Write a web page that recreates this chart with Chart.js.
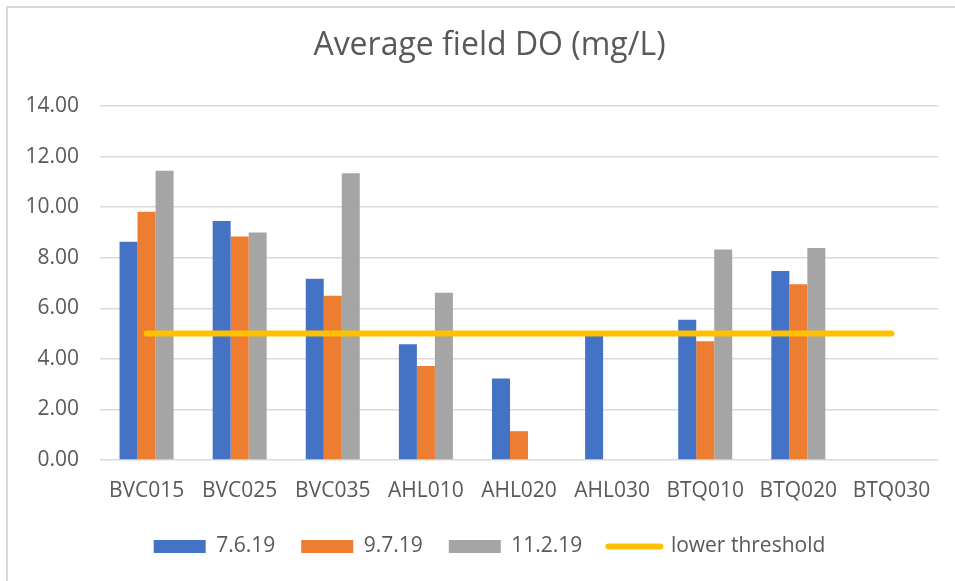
<!DOCTYPE html>
<html>
<head>
<meta charset="utf-8">
<script src="https://cdn.jsdelivr.net/npm/chart.js@4"></script>
<style>
  html, body { margin: 0; padding: 0; background: #fff; }
  #frame { position: absolute; left: 6px; top: 6px; width: 960px; height: 590px;
           border-top: 2px solid #d9d9d9; border-left: 2px solid #d9d9d9; }
  #wrap { position: absolute; left: 0; top: 0; width: 955px; height: 581px; }
</style>
</head>
<body>
<div id="frame"></div>
<div id="wrap"><canvas id="graficoDO" width="955" height="581"></canvas></div>
<script>
// Estações e médias de OD de campo (mg/L)
const estacoes = ['BVC015', 'BVC025', 'BVC035', 'AHL010', 'AHL020', 'AHL030', 'BTQ010', 'BTQ020', 'BTQ030'];
const junho = [8.63, 9.45, 7.17, 4.58, 3.22, 4.93, 5.55, 7.47, null];
const julho = [9.82, 8.84, 6.50, 3.72, 1.14, null, 4.70, 6.95, null];
const novembro = [11.44, 9.00, 11.34, 6.61, null, null, 8.32, 8.38, null];
const limiteInferior = [5, 5, 5, 5, 5, 5, 5, 5, 5];
const ticksY = [0, 2, 4, 6, 8, 10, 12, 14];

const cinzaTexto = '#595959';
const fonte = "'Open Sans', sans-serif";

const ctx = document.getElementById('graficoDO').getContext('2d');

new Chart(ctx, {
    type: 'bar',
    data: {
        labels: estacoes,
        datasets: [
            { label: '7.6.19', data: junho, backgroundColor: '#4472C4', order: 1 },
            { label: '9.7.19', data: julho, backgroundColor: '#ED7D31', order: 1 },
            { label: '11.2.19', data: novembro, backgroundColor: '#A5A5A5', order: 1 },
            {
                type: 'line',
                label: 'lower threshold',
                data: limiteInferior,
                borderColor: '#FFC000',
                backgroundColor: '#FFC000',
                borderWidth: 6,
                borderCapStyle: 'round',
                pointRadius: 0,
                order: 0
            }
        ]
    },
    options: {
        responsive: false,
        animation: false,
        datasets: {
            bar: { categoryPercentage: 0.58, barPercentage: 1 }
        },
        layout: { padding: { left: 24, right: 0, top: 0, bottom: 14 } },
        plugins: {
            title: {
                display: true,
                text: 'Average field DO (mg/L)',
                color: cinzaTexto,
                font: { family: fonte, size: 32, weight: 'normal' },
                padding: { top: 27, bottom: 40.6 }
            },
            legend: {
                position: 'bottom',
                labels: {
                    color: cinzaTexto,
                    font: { family: fonte, size: 21 },
                    usePointStyle: true,
                    pointStyleWidth: 52,
                    boxHeight: 13,
                    padding: 26,
                    sort: (a, b) => a.datasetIndex - b.datasetIndex,
                    generateLabels: chart => {
                        const itens = Chart.defaults.plugins.legend.labels.generateLabels(chart);
                        return itens.map(item => {
                            const ds = chart.data.datasets[item.datasetIndex];
                            if (ds.type === 'line') {
                                item.pointStyle = 'line';
                                item.strokeStyle = ds.borderColor;
                                item.lineWidth = 6;
                                item.lineCap = 'round';
                            } else {
                                item.pointStyle = 'rect';
                                item.fillStyle = ds.backgroundColor;
                                item.lineWidth = 0;
                            }
                            return item;
                        });
                    }
                }
            },
            tooltip: { enabled: false }
        },
        scales: {
            x: {
                grid: { display: false, drawTicks: false },
                border: { display: false },
                ticks: { color: cinzaTexto, font: { family: fonte, size: 21 }, padding: 18 },
                afterFit: scale => { scale.height = 50; }
            },
            y: {
                min: 0,
                max: 14,
                afterBuildTicks: scale => { scale.ticks = ticksY.map(v => ({ value: v })); },
                grid: { color: '#D9D9D9', lineWidth: 1.5, drawTicks: false },
                border: { display: false },
                ticks: {
                    color: cinzaTexto,
                    font: { family: fonte, size: 21 },
                    padding: 21,
                    callback: v => Number(v).toFixed(2)
                },
                afterFit: scale => { scale.width = 76; }
            },
            // eixo vazio à direita só para deixar a margem do gráfico
            margemDireita: {
                type: 'linear',
                position: 'right',
                grid: { display: false, drawTicks: false },
                border: { display: false },
                ticks: { display: false },
                afterFit: scale => { scale.width = 17; }
            }
        }
    }
});
</script>
</body>
</html>
